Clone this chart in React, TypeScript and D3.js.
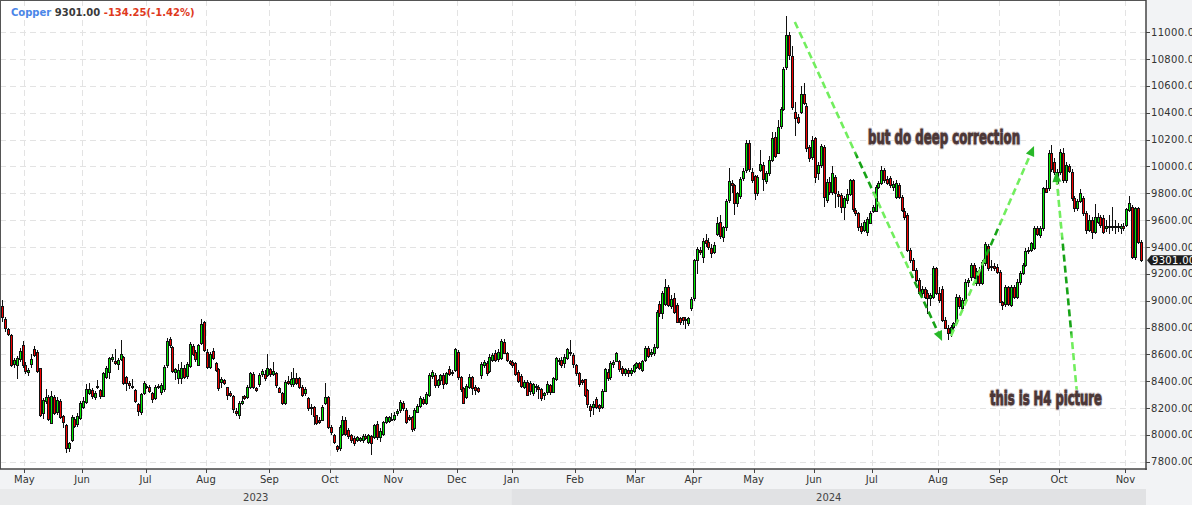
import React from 'react';
import * as d3 from 'd3';

// one candle per LME trading day: [open, high, low, close]
type Bar = [number, number, number, number];

const apr23: Bar[] = [
  [8960, 9005, 8840, 8876], [8863, 8880, 8770, 8794], [8786, 8800, 8740, 8749], [8744, 8752, 8505, 8521],
  [8528, 8575, 8500, 8558], [8521, 8585, 8420, 8570], [8563, 8650, 8540, 8627], [8670, 8700, 8500, 8521],
];
const may23: Bar[] = [
  [8521, 8540, 8450, 8476], [8468, 8500, 8440, 8483], [8526, 8600, 8500, 8563], [8640, 8660, 8580, 8595],
  [8620, 8630, 8460, 8478], [8496, 8500, 8130, 8148], [8160, 8275, 8120, 8260], [8250, 8340, 8230, 8285],
  [8285, 8300, 8100, 8116], [8091, 8330, 8080, 8290], [8285, 8300, 8150, 8165], [8170, 8280, 8150, 8260],
  [8255, 8270, 8120, 8136], [8140, 8150, 8050, 8098], [8073, 8080, 7862, 7900], [7900, 7950, 7870, 7937],
  [7962, 8150, 7950, 8135], [8118, 8130, 8050, 8068], [8080, 8160, 8060, 8140], [8123, 8250, 8110, 8235],
];
const jun23: Bar[] = [
  [8210, 8280, 8190, 8255], [8247, 8380, 8230, 8339], [8315, 8390, 8300, 8340], [8335, 8350, 8270, 8292],
  [8285, 8330, 8260, 8315], [8362, 8410, 8340, 8356], [8335, 8345, 8270, 8292], [8290, 8470, 8280, 8458],
  [8434, 8510, 8420, 8500], [8471, 8580, 8420, 8570], [8562, 8600, 8540, 8578], [8550, 8640, 8520, 8533],
  [8525, 8570, 8480, 8558], [8563, 8710, 8550, 8600], [8583, 8590, 8370, 8389], [8434, 8440, 8330, 8384],
  [8384, 8400, 8340, 8370], [8364, 8420, 8340, 8358], [8335, 8345, 8240, 8255], [8230, 8240, 8140, 8178],
  [8168, 8310, 8150, 8302], [8315, 8400, 8300, 8384],
];
const jul23: Bar[] = [
  [8364, 8380, 8340, 8354], [8354, 8370, 8310, 8330], [8310, 8320, 8240, 8265], [8272, 8370, 8260, 8354],
  [8364, 8380, 8340, 8356], [8322, 8390, 8300, 8372], [8340, 8520, 8320, 8508], [8520, 8720, 8500, 8700],
  [8712, 8730, 8650, 8670], [8652, 8660, 8460, 8478], [8471, 8500, 8410, 8488], [8421, 8530, 8380, 8483],
  [8421, 8540, 8380, 8496], [8496, 8520, 8420, 8434], [8439, 8540, 8420, 8528], [8513, 8690, 8500, 8677],
  [8662, 8680, 8590, 8603], [8620, 8630, 8540, 8563], [8520, 8680, 8510, 8670], [8687, 8860, 8670, 8826],
  [8838, 8850, 8620, 8632],
];
const aug23: Bar[] = [
  [8620, 8640, 8490, 8508], [8508, 8620, 8490, 8602], [8627, 8650, 8560, 8570], [8533, 8545, 8470, 8483],
  [8488, 8500, 8330, 8347], [8396, 8430, 8350, 8414], [8409, 8420, 8370, 8384], [8354, 8360, 8260, 8297],
  [8314, 8330, 8280, 8294], [8289, 8300, 8160, 8190], [8180, 8200, 8140, 8165], [8145, 8250, 8120, 8235],
  [8235, 8290, 8220, 8252], [8289, 8300, 8260, 8272], [8284, 8370, 8270, 8354], [8354, 8470, 8340, 8458],
  [8451, 8470, 8340, 8354], [8347, 8360, 8320, 8337], [8376, 8460, 8360, 8446], [8453, 8490, 8430, 8478],
  [8451, 8480, 8400, 8421], [8446, 8605, 8430, 8496],
];
const sep23: Bar[] = [
  [8488, 8500, 8430, 8451], [8453, 8540, 8440, 8478], [8458, 8470, 8350, 8371], [8347, 8360, 8310, 8322],
  [8309, 8320, 8220, 8235], [8235, 8410, 8220, 8396], [8401, 8440, 8370, 8389], [8379, 8470, 8360, 8414],
  [8376, 8500, 8360, 8421], [8426, 8460, 8370, 8389], [8421, 8430, 8340, 8359], [8359, 8370, 8280, 8297],
  [8309, 8360, 8290, 8339], [8272, 8280, 8180, 8197], [8210, 8230, 8150, 8202], [8205, 8215, 8075, 8140],
  [8145, 8150, 8070, 8086], [8110, 8130, 8080, 8098], [8110, 8220, 8100, 8210], [8235, 8384, 8220, 8284],
  [8284, 8290, 8040, 8056],
];
const oct23: Bar[] = [
  [8056, 8070, 8000, 8024], [7999, 8010, 7930, 7949], [7917, 7925, 7870, 7892], [7899, 8070, 7880, 8061],
  [8006, 8140, 7990, 8110], [8110, 8130, 7990, 8006], [8036, 8050, 7970, 7991], [7999, 8010, 7940, 7961],
  [7979, 7990, 7920, 7942], [7961, 7995, 7945, 7981], [7961, 7985, 7950, 7974], [7961, 8005, 7940, 7991],
  [7991, 8010, 7960, 7974], [7949, 8010, 7930, 7999], [7991, 8000, 7850, 7937], [7986, 8080, 7970, 8073],
  [8078, 8100, 7960, 7981], [7981, 8050, 7950, 8030], [8010, 8100, 7990, 8093], [8098, 8140, 8080, 8130],
  [8105, 8140, 8090, 8130], [8120, 8160, 8100, 8118],
];
const nov23: Bar[] = [
  [8118, 8170, 8100, 8150], [8160, 8190, 8140, 8180], [8185, 8260, 8160, 8247], [8240, 8250, 8180, 8198],
  [8185, 8200, 8080, 8098], [8135, 8150, 8100, 8116], [8130, 8140, 8020, 8041], [8049, 8200, 8030, 8185],
  [8173, 8230, 8160, 8215], [8215, 8290, 8200, 8272], [8265, 8280, 8220, 8235], [8235, 8320, 8220, 8304],
  [8297, 8460, 8280, 8446], [8438, 8480, 8420, 8470], [8446, 8460, 8350, 8371], [8371, 8420, 8350, 8409],
  [8409, 8450, 8370, 8446], [8446, 8460, 8340, 8379], [8384, 8470, 8370, 8458], [8488, 8510, 8440, 8453],
  [8468, 8480, 8440, 8472], [8483, 8650, 8470, 8637],
];
const dec23: Bar[] = [
  [8620, 8630, 8410, 8429], [8429, 8440, 8320, 8339], [8347, 8360, 8230, 8240], [8285, 8380, 8270, 8364],
  [8356, 8450, 8340, 8434], [8429, 8440, 8300, 8347], [8354, 8370, 8300, 8334], [8347, 8360, 8310, 8329],
  [8446, 8540, 8420, 8525], [8520, 8560, 8500, 8545], [8538, 8550, 8440, 8463], [8476, 8600, 8460, 8583],
  [8558, 8610, 8540, 8595], [8607, 8630, 8540, 8558], [8563, 8640, 8540, 8620], [8570, 8715, 8560, 8702],
  [8694, 8715, 8600, 8612], [8612, 8620, 8540, 8558], [8553, 8560, 8520, 8533],
];
const jan24: Bar[] = [
  [8545, 8560, 8500, 8520], [8533, 8540, 8440, 8453], [8471, 8480, 8390, 8404], [8438, 8450, 8350, 8364],
  [8354, 8410, 8340, 8396], [8396, 8410, 8290, 8297], [8389, 8400, 8300, 8329], [8310, 8390, 8290, 8379],
  [8365, 8380, 8320, 8360], [8360, 8370, 8270, 8339], [8339, 8350, 8250, 8277], [8300, 8320, 8260, 8310],
  [8322, 8400, 8300, 8379], [8372, 8380, 8300, 8322], [8322, 8430, 8310, 8421], [8414, 8580, 8400, 8570],
  [8548, 8570, 8520, 8558], [8558, 8580, 8500, 8520], [8533, 8600, 8500, 8583], [8570, 8650, 8560, 8637],
  [8620, 8710, 8590, 8610], [8595, 8610, 8500, 8525],
];
const feb24: Bar[] = [
  [8520, 8530, 8440, 8463], [8463, 8470, 8360, 8379], [8409, 8420, 8370, 8396], [8414, 8420, 8280, 8297],
  [8334, 8340, 8200, 8230], [8215, 8230, 8130, 8185], [8205, 8250, 8150, 8230], [8265, 8280, 8190, 8205],
  [8220, 8230, 8170, 8198], [8205, 8340, 8190, 8329], [8329, 8500, 8320, 8488], [8471, 8490, 8400, 8421],
  [8429, 8550, 8410, 8533], [8525, 8560, 8500, 8545], [8553, 8620, 8540, 8612], [8550, 8560, 8470, 8488],
  [8496, 8510, 8440, 8458], [8463, 8500, 8440, 8488], [8483, 8500, 8430, 8458], [8458, 8500, 8440, 8483],
  [8478, 8530, 8460, 8520],
];
const mar24: Bar[] = [
  [8508, 8540, 8490, 8533], [8533, 8545, 8480, 8500], [8483, 8560, 8470, 8550], [8558, 8660, 8540, 8645],
  [8645, 8660, 8570, 8588], [8600, 8640, 8580, 8620], [8610, 8680, 8590, 8657], [8657, 8930, 8640, 8918],
  [8975, 9000, 8880, 8911], [8905, 9070, 8860, 9060], [8975, 9165, 8960, 9105], [9105, 9120, 8950, 8968],
  [8961, 9040, 8940, 9010], [9017, 9060, 8900, 8918], [8968, 8980, 8830, 8844], [8868, 8880, 8820, 8843],
  [8875, 8880, 8820, 8856], [8856, 8880, 8790, 8862], [8836, 8880, 8810, 8868], [8943, 9030, 8920, 9010],
];
const apr24: Bar[] = [
  [9017, 9310, 9000, 9303], [9303, 9400, 9200, 9383], [9375, 9400, 9340, 9365], [9323, 9470, 9280, 9445],
  [9452, 9500, 9400, 9427], [9440, 9470, 9380, 9403], [9390, 9420, 9320, 9358], [9366, 9440, 9350, 9415],
  [9497, 9620, 9480, 9581], [9589, 9640, 9460, 9482], [9477, 9560, 9440, 9551], [9546, 9760, 9520, 9745],
  [9750, 9990, 9730, 9892], [9879, 9900, 9800, 9862], [9862, 9870, 9640, 9730], [9725, 9810, 9700, 9800],
  [9780, 9920, 9760, 9904], [9912, 9990, 9890, 9966], [9974, 10200, 9950, 10172], [10172, 10200, 9960, 9979],
  [9961, 9990, 9880, 9899],
];
const may24: Bar[] = [
  [9929, 9940, 9750, 9800], [9805, 9940, 9780, 9925], [9974, 10120, 9960, 10019], [10011, 10030, 9820, 9904],
  [9895, 9970, 9870, 9954], [9954, 10080, 9930, 10048], [10048, 10260, 10030, 10210], [10217, 10260, 10060, 10078],
  [10103, 10350, 10090, 10297], [10302, 10440, 10280, 10426], [10426, 10740, 10410, 10724], [10739, 11120, 10720, 10980],
  [10980, 11000, 10790, 10831], [10823, 10900, 10420, 10446], [10409, 10480, 10230, 10359], [10366, 10390, 10320, 10334],
  [10409, 10600, 10390, 10540], [10540, 10620, 10460, 10476], [10451, 10470, 10110, 10135], [10143, 10160, 10030, 10061],
  [10073, 10230, 10050, 10198],
];
const jun24: Bar[] = [
  [10210, 10220, 9880, 9924], [9949, 10030, 9900, 10011], [10011, 10170, 9990, 10153], [10148, 10160, 9700, 9775],
  [9750, 9910, 9730, 9887], [9887, 9920, 9790, 9812], [9812, 10000, 9790, 9949], [9919, 9940, 9690, 9800],
  [9795, 9820, 9700, 9780], [9787, 9800, 9650, 9696], [9696, 9780, 9600, 9763], [9750, 9830, 9720, 9795],
  [9795, 9910, 9780, 9899], [9899, 9910, 9660, 9681], [9676, 9690, 9630, 9651], [9651, 9660, 9520, 9547],
  [9560, 9580, 9500, 9520], [9527, 9600, 9510, 9589], [9514, 9620, 9480, 9606], [9581, 9670, 9570, 9656],
];
const jul24: Bar[] = [
  [9671, 9710, 9650, 9696], [9671, 9860, 9660, 9850], [9850, 9890, 9830, 9875], [9875, 10000, 9860, 9974],
  [9974, 9990, 9880, 9899], [9905, 9930, 9860, 9880], [9912, 9930, 9840, 9862], [9850, 9890, 9820, 9870],
  [9775, 9900, 9760, 9875], [9862, 9880, 9760, 9775], [9775, 9790, 9660, 9676], [9671, 9690, 9600, 9626],
  [9638, 9650, 9360, 9378], [9378, 9390, 9280, 9303], [9303, 9320, 9220, 9229], [9229, 9240, 9140, 9154],
  [9154, 9170, 9040, 9055], [9060, 9110, 9030, 9085], [9090, 9100, 9010, 9030], [9060, 9080, 8900, 9020],
  [9020, 9060, 8960, 9040], [9030, 9260, 9010, 9241], [9241, 9250, 9040, 9055],
];
const aug24: Bar[] = [
  [9060, 9100, 8980, 9005], [9085, 9110, 8840, 8856], [8856, 8880, 8790, 8800], [8800, 8820, 8710, 8760],
  [8757, 8820, 8730, 8806], [8806, 8840, 8780, 8830], [8831, 9050, 8820, 9030], [9025, 9040, 8940, 8960],
  [8943, 9020, 8920, 9005], [9005, 9160, 8990, 9142], [9142, 9170, 9100, 9154], [9179, 9280, 9150, 9266],
  [9266, 9280, 9160, 9179], [9134, 9240, 9110, 9224], [9229, 9250, 9110, 9129], [9134, 9300, 9120, 9291],
  [9278, 9440, 9260, 9422], [9407, 9420, 9220, 9241], [9250, 9300, 9220, 9255], [9255, 9280, 9220, 9245],
  [9253, 9270, 9200, 9216],
];
const sep24: Bar[] = [
  [9216, 9230, 8980, 8993], [8993, 9000, 8930, 8968], [8975, 9120, 8950, 9100], [9100, 9110, 8960, 8975],
  [8968, 9120, 8950, 9104], [9104, 9120, 9010, 9025], [9025, 9160, 9010, 9142], [9142, 9220, 9120, 9209],
  [9209, 9280, 9190, 9266], [9266, 9390, 9250, 9373], [9370, 9400, 9350, 9380], [9378, 9440, 9360, 9427],
  [9390, 9560, 9380, 9539], [9539, 9560, 9480, 9497], [9489, 9560, 9470, 9539], [9539, 9850, 9520, 9837],
  [9837, 9900, 9800, 9812], [9837, 10120, 9820, 10098], [10098, 10160, 9960, 9979], [10036, 10060, 9940, 9961],
  [9874, 9980, 9860, 9961],
];
const oct24: Bar[] = [
  [9961, 10130, 9940, 10110], [10103, 10140, 9880, 9899], [9899, 10030, 9880, 10011], [10003, 10020, 9950, 9969],
  [9961, 9980, 9740, 9763], [9763, 9780, 9660, 9688], [9688, 9760, 9670, 9745], [9745, 9830, 9730, 9805],
  [9763, 9780, 9630, 9651], [9651, 9670, 9500, 9527], [9527, 9640, 9510, 9601], [9601, 9620, 9460, 9514],
  [9514, 9720, 9500, 9621], [9590, 9650, 9570, 9626], [9626, 9640, 9540, 9564], [9614, 9640, 9500, 9514],
  [9540, 9600, 9510, 9560], [9557, 9640, 9500, 9560], [9557, 9700, 9520, 9555], [9560, 9600, 9500, 9550],
  [9555, 9580, 9510, 9550], [9545, 9570, 9500, 9555], [9560, 9580, 9520, 9545],
];
const nov24: Bar[] = [
  [9564, 9690, 9550, 9681], [9676, 9780, 9660, 9730], [9700, 9710, 9310, 9328], [9328, 9700, 9300, 9688],
  [9688, 9700, 9420, 9435], [9435, 9450, 9290, 9301],
];

// LME closed days inside the range
const holidays = [
  '2023-05-01', '2023-05-08', '2023-05-29', '2023-08-28', '2023-12-25', '2023-12-26',
  '2024-01-01', '2024-03-29', '2024-04-01', '2024-05-06', '2024-05-27', '2024-08-26',
];

const yTicks = [7800, 8000, 8200, 8400, 8600, 8800, 9000, 9200, 9400, 9600, 9800, 10000, 10200, 10400, 10600, 10800, 11000];

const titleParts = [
  { text: 'Copper', color: '#4a86e8' },
  { text: '9301.00', color: '#3a3a3a' },
  { text: '-134.25(-1.42%)', color: '#e0391c' },
];

// arrows in (bar index, price)
const arrows = [
  { from: [274.8, 11077], to: [325.9, 8699], stops: [[0, 'l'], [0.4, 'l'], [0.42, 'd'], [0.52, 'd'], [0.54, 'l'], [0.78, 'l'], [0.8, 'd'], [1, 'd']] },
  { from: [329.0, 8737], to: [357.8, 10152], stops: [[0, 'l'], [0.38, 'l'], [0.42, 'd'], [0.56, 'd'], [0.6, 'l'], [1, 'l']] },
  { from: [372.7, 8312], to: [365.4, 9959], stops: [[0, 'l'], [0.25, 'l'], [0.28, 'd'], [0.68, 'd'], [0.71, 'l'], [1, 'l']] },
];
const notes = [
  { text: 'but do deep correction', at: [300.2, 10167], width: 152 },
  { text: 'this is H4 picture', at: [342.5, 8222], width: 112 },
];

const W = 1192;
const H = 505;
const right = 1146;
const bottom = 469;
const font = '"DejaVu Sans", sans-serif';
const noteFont = '"Liberation Sans Narrow", "DejaVu Sans Condensed", sans-serif';

const App: React.FC = () => {
  const bars: Bar[] = [
    apr23, may23, jun23, jul23, aug23, sep23, oct23, nov23, dec23,
    jan24, feb24, mar24, apr24, may24, jun24, jul24, aug24, sep24, oct24, nov24,
  ].flat();

  const off = new Set(holidays);
  const fmt = d3.timeFormat('%Y-%m-%d');
  const days = d3.timeDay
    .range(new Date(2023, 3, 19), new Date(2024, 10, 9))
    .filter(d => d.getDay() !== 0 && d.getDay() !== 6 && !off.has(fmt(d)));

  const x = d3.scaleBand<number>().domain(d3.range(days.length)).range([1.4, 1142.7]).padding(0);
  const step = x.step();
  const xAt = (t: number) => (x(0) as number) + (t + 0.5) * step;
  const y = d3.scaleLinear().domain([7800, 11000]).range([461.7, 32.3]);

  // first trading day of each month
  const monthStarts = days
    .map((d, i) => ({ d, i }))
    .filter(({ d, i }) => i > 0 && d.getMonth() !== days[i - 1].getMonth());
  const years = d3.groups(days.map((d, i) => ({ d, i })), v => v.d.getFullYear()).map(([yr, v]) => {
    const x0 = v[0].i === 0 ? 0 : (x(v[0].i) as number);
    const x1 = v[v.length - 1].i === days.length - 1 ? right : (x(v[v.length - 1].i) as number) + step;
    return { yr, x0, x1 };
  });

  const last = bars[bars.length - 1][3];
  const ly = y(last);

  const light = '#72ee5e';
  const dark = '#17a317';

  return (
    <div>
      <style>{'body{margin:0}'}</style>
      <svg width={W} height={H} style={{ display: 'block' }} fontFamily={font}>
        <defs>
          {arrows.map((a, k) => (
            <linearGradient key={k} id={`ag${k}`} gradientUnits="userSpaceOnUse"
              x1={xAt(a.from[0])} y1={y(a.from[1])} x2={xAt(a.to[0])} y2={y(a.to[1])}>
              {a.stops.map(([o, c], j) => (
                <stop key={j} offset={o as number} stopColor={c === 'l' ? light : dark} />
              ))}
            </linearGradient>
          ))}
        </defs>
        <rect width={W} height={H} fill="#f2f3f5" />
        <rect x={0} y={0} width={right} height={bottom} fill="#ffffff" />

        {/* year band */}
        {years.map((v, k) => (
          <g key={v.yr}>
            <rect x={v.x0} y={489} width={v.x1 - v.x0} height={16} fill={k === 0 ? '#e9eaeb' : '#e1e2e4'} />
            <text x={(v.x0 + v.x1) / 2} y={501} textAnchor="middle" fontSize={10} fill="#444">{v.yr}</text>
          </g>
        ))}

        {/* grid */}
        <g stroke="#e3e3e3" strokeDasharray="6,4" strokeWidth={1}>
          {yTicks.map(v => (
            <line key={v} x1={0} x2={right} y1={Math.round(y(v)) + 0.5} y2={Math.round(y(v)) + 0.5} />
          ))}
          {monthStarts.map(({ i }) => (
            <line key={i} x1={Math.round(x(i) as number) + 0.5} x2={Math.round(x(i) as number) + 0.5} y1={0} y2={bottom} />
          ))}
        </g>

        {/* candles */}
        <g shapeRendering="crispEdges">
          {bars.map(([o, h, l, c], i) => {
            const cx = Math.floor((x(i) as number) + step / 2);
            const hi = Math.max(h, o, c);
            const lo = Math.min(l, o, c);
            const top = Math.round(y(Math.max(o, c)));
            const bot = Math.round(y(Math.min(o, c)));
            return (
              <g key={i}>
                <line x1={cx + 0.5} x2={cx + 0.5} y1={Math.round(y(hi))} y2={Math.round(y(lo))} stroke="#111" strokeWidth={1} />
                <rect x={cx - 0.5} y={top + 0.5} width={2} height={Math.max(bot - top, 1)}
                  fill={c >= o ? '#00ea00' : '#f20000'} stroke="#111" strokeWidth={1} />
              </g>
            );
          })}
        </g>

        {/* annotations */}
        {arrows.map((a, k) => {
          const x1 = xAt(a.from[0]), y1 = y(a.from[1]);
          const x2 = xAt(a.to[0]), y2 = y(a.to[1]);
          const ang = Math.atan2(y2 - y1, x2 - x1);
          const len = 10, hw = 4.5;
          const bx = x2 - len * Math.cos(ang), by = y2 - len * Math.sin(ang);
          const px = -Math.sin(ang) * hw, py = Math.cos(ang) * hw;
          return (
            <g key={k}>
              <line x1={x1} y1={y1} x2={bx} y2={by} stroke={`url(#ag${k})`} strokeWidth={2.6} strokeDasharray="7,4" />
              <path d={`M${x2},${y2}L${bx + px},${by + py}L${bx - px},${by - py}Z`} fill="#28b828" />
            </g>
          );
        })}
        {notes.map(n => (
          <g key={n.text} fontSize={19} fontWeight="bold" fontFamily={noteFont}>
            <text x={xAt(n.at[0])} y={y(n.at[1])} textLength={n.width} lengthAdjust="spacingAndGlyphs"
              fill="none" stroke="#ddd5d5" strokeWidth={3} strokeLinejoin="round">{n.text}</text>
            <text x={xAt(n.at[0])} y={y(n.at[1])} textLength={n.width} lengthAdjust="spacingAndGlyphs"
              fill="#4b3636" stroke="#4b3636" strokeWidth={0.9} strokeLinejoin="round">{n.text}</text>
          </g>
        ))}

        {/* frame and axes */}
        <line x1={0} x2={right} y1={0.5} y2={0.5} stroke="#555" />
        <line x1={0.5} x2={0.5} y1={0} y2={bottom} stroke="#555" />
        <line x1={right} x2={right} y1={0} y2={bottom + 1} stroke="#444" strokeWidth={1.5} />
        <line x1={0} x2={right + 0.75} y1={bottom} y2={bottom} stroke="#444" strokeWidth={1.5} />

        {yTicks.map(v => (
          <g key={v}>
            <line x1={right} x2={right + 4} y1={Math.round(y(v)) + 0.5} y2={Math.round(y(v)) + 0.5} stroke="#444" />
            <text x={right + 5} y={y(v)} dy="0.35em" fontSize={10} fill="#333" letterSpacing={0.3}>{v.toFixed(2)}</text>
          </g>
        ))}
        {monthStarts.map(({ d, i }) => (
          <g key={i}>
            <line x1={Math.round(x(i) as number) + 0.5} x2={Math.round(x(i) as number) + 0.5} y1={bottom} y2={bottom + 4} stroke="#444" />
            <text x={x(i) as number} y={483} textAnchor="middle" fontSize={10} fill="#333">{d3.timeFormat('%b')(d)}</text>
          </g>
        ))}

        {/* last price tag */}
        <path d={`M${right + 1},${ly}L${right + 5},${ly - 5}H${W}V${ly + 5}H${right + 5}Z`} fill="#1c1c1c" />
        <text x={right + 6} y={ly} dy="0.35em" fontSize={10} fill="#fff" letterSpacing={0.3}>{last.toFixed(2)}</text>

        {/* title */}
        <text x={11} y={15.5} fontSize={10} fontWeight="bold">
          {titleParts.map((p, k) => (
            <tspan key={k} fill={p.color}>{(k > 0 ? ' ' : '') + p.text}</tspan>
          ))}
        </text>
      </svg>
    </div>
  );
};

export default App;
